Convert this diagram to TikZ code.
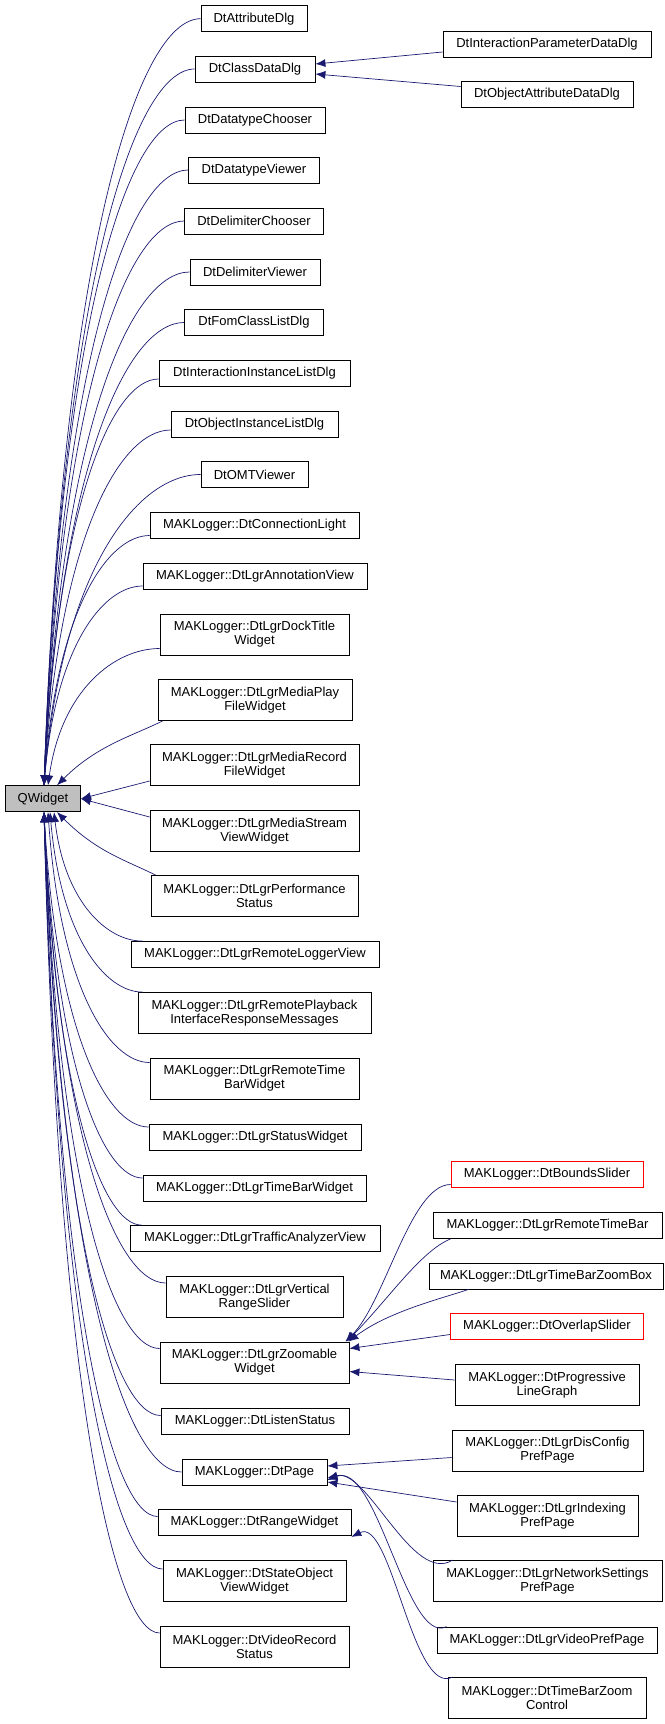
\documentclass[tikz,border=0pt]{standalone}
\usepackage{fontspec}
\setmainfont{Liberation Sans}
\usetikzlibrary{arrows.meta,calc}
\definecolor{edgec}{HTML}{191970}
\newcommand\qe[2]{\draw[e] let \p1=(#1),\p2=(#2) in (#1) .. controls (\x1+0.12*\x2-0.12*\x1,\y1+0.7*\y2-0.7*\y1) and (\x2-0.4*\x2+0.4*\x1,\y2) .. (#2);}
\begin{document}
\begin{tikzpicture}[x=1pt,y=-1pt,
  b/.style={draw=black,line width=0.8pt,fill=white,inner sep=0pt,minimum height=26pt,align=center,font=\fontsize{13}{14}\selectfont},
  bb/.style={b,minimum height=41pt},
  red/.style={draw=red},
  e/.style={draw=edgec,line width=0.7pt,{Latex[length=10pt,width=8pt]}-}]
\useasboundingbox (0,0) rectangle (664,1724);
\node[b,fill=gray!50,minimum width=75pt] (qw) at (43,798.7) {QWidget};
\node[b,minimum width=106pt] (n1) at (254,18.7) {DtAttributeDlg};
\node[b,minimum width=120pt] (n2) at (255,69) {DtClassDataDlg};
\node[b,minimum width=208pt] (n2a) at (547,44) {DtInteractionParameterDataDlg};
\node[b,minimum width=172pt] (n2b) at (547,94.5) {DtObjectAttributeDataDlg};
\node[b,minimum width=140pt] (n3) at (255,120) {DtDatatypeChooser};
\node[b,minimum width=131pt] (n4) at (254,170) {DtDatatypeViewer};
\node[b,minimum width=139pt] (n5) at (254,221) {DtDelimiterChooser};
\node[b,minimum width=130pt] (n6) at (255,272) {DtDelimiterViewer};
\node[b,minimum width=139pt] (n7) at (254,322.5) {DtFomClassListDlg};
\node[b,minimum width=191pt] (n8) at (254.5,373) {DtInteractionInstanceListDlg};
\node[b,minimum width=167pt] (n9) at (254.5,424) {DtObjectInstanceListDlg};
\node[b,minimum width=107pt] (n10) at (254.5,474.5) {DtOMTViewer};
\node[b,minimum width=209pt] (n11) at (254.5,525.5) {MAKLogger::DtConnectionLight};
\node[b,minimum width=224pt] (n12) at (255,576) {MAKLogger::DtLgrAnnotationView};
\node[bb,minimum width=189pt] (n13) at (254.5,634.5) {MAKLogger::DtLgrDockTitle\\Widget};
\node[bb,minimum width=194pt] (n14) at (255,700) {MAKLogger::DtLgrMediaPlay\\FileWidget};
\node[bb,minimum width=209pt] (n15) at (254.5,765) {MAKLogger::DtLgrMediaRecord\\FileWidget};
\node[bb,minimum width=209pt] (n16) at (254.5,831) {MAKLogger::DtLgrMediaStream\\ViewWidget};
\node[bb,minimum width=207pt] (n17) at (254.5,896) {MAKLogger::DtLgrPerformance\\Status};
\node[b,minimum width=248pt] (n18) at (255,954.5) {MAKLogger::DtLgrRemoteLoggerView};
\node[bb,minimum width=233pt] (n19) at (254.5,1013) {MAKLogger::DtLgrRemotePlayback\\InterfaceResponseMessages};
\node[bb,minimum width=209pt] (n20) at (254.5,1078.5) {MAKLogger::DtLgrRemoteTime\\BarWidget};
\node[b,minimum width=212pt] (n21) at (255,1137) {MAKLogger::DtLgrStatusWidget};
\node[b,minimum width=223pt] (n22) at (254.5,1188) {MAKLogger::DtLgrTimeBarWidget};
\node[b,minimum width=250pt] (n23) at (255,1238.5) {MAKLogger::DtLgrTrafficAnalyzerView};
\node[bb,minimum width=177pt] (n24) at (254.5,1297) {MAKLogger::DtLgrVertical\\RangeSlider};
\node[bb,minimum width=189pt] (n25) at (254.5,1362.5) {MAKLogger::DtLgrZoomable\\Widget};
\node[b,minimum width=188pt] (n26) at (255,1421.5) {MAKLogger::DtListenStatus};
\node[b,minimum width=145pt] (n27) at (254.5,1472) {MAKLogger::DtPage};
\node[b,minimum width=193pt] (n28) at (254.5,1522.5) {MAKLogger::DtRangeWidget};
\node[bb,minimum width=183pt] (n29) at (254.5,1581) {MAKLogger::DtStateObject\\ViewWidget};
\node[bb,minimum width=189pt] (n30) at (254.5,1647) {MAKLogger::DtVideoRecord\\Status};
\node[b,red,minimum width=192pt] (z1) at (547,1174.5) {MAKLogger::DtBoundsSlider};
\node[b,minimum width=229pt] (z2) at (547.5,1225.5) {MAKLogger::DtLgrRemoteTimeBar};
\node[b,minimum width=234pt] (z3) at (546,1276) {MAKLogger::DtLgrTimeBarZoomBox};
\node[b,red,minimum width=193pt] (z4) at (547,1326.5) {MAKLogger::DtOverlapSlider};
\node[bb,minimum width=184pt] (z5) at (547,1385) {MAKLogger::DtProgressive\\LineGraph};
\node[bb,minimum width=191pt] (p1) at (547.5,1450.5) {MAKLogger::DtLgrDisConfig\\PrefPage};
\node[bb,minimum width=181pt] (p2) at (547.5,1516) {MAKLogger::DtLgrIndexing\\PrefPage};
\node[bb,minimum width=229pt] (p3) at (547.5,1581) {MAKLogger::DtLgrNetworkSettings\\PrefPage};
\node[b,minimum width=220pt] (p4) at (547,1640) {MAKLogger::DtLgrVideoPrefPage};
\node[bb,minimum width=198pt] (r1) at (547,1698) {MAKLogger::DtTimeBarZoom\\Control};
% anchor points on QWidget
\coordinate (qt) at ([xshift=1pt]qw.north);
\coordinate (qb) at ([xshift=1pt]qw.south);
\qe{qt}{n1.west}
\qe{qt}{n2.west}
\qe{qt}{n3.west}
\qe{qt}{n4.west}
\qe{qt}{n5.west}
\qe{qt}{n6.west}
\qe{qt}{n7.west}
\qe{qt}{[yshift=-6pt]n8.west}
\qe{qt}{[yshift=-6pt]n9.west}
\qe{qt}{n10.west}
\qe{qt}{[yshift=-10pt]n11.west}
\qe{qt}{[yshift=-10pt]n12.west}
\qe{[xshift=4pt]qt}{[yshift=-14pt]n13.west}
\draw[e] ([xshift=14pt]qw.north) .. controls +(40,-40) and +(-30,15) .. ([xshift=5pt]n14.south west);
\draw[e] (qw.east) -- ([yshift=-16pt]n15.west);
\draw[e] (qw.east) -- ([yshift=14pt]n16.west);
\draw[e] ([xshift=14pt]qw.south) .. controls +(40,40) and +(-30,-15) .. ([xshift=5pt]n17.north west);
\qe{[xshift=10pt]qb}{[xshift=12pt]n18.north west}
\qe{[xshift=6pt]qb}{[xshift=5pt]n19.north west}
\qe{[xshift=4pt]qb}{[yshift=16pt]n20.west}
\qe{qb}{[yshift=10pt]n21.west}
\qe{qb}{[yshift=10pt]n22.west}
\qe{qb}{[xshift=12pt]n23.north west}
\qe{qb}{[yshift=14pt]n24.west}
\qe{qb}{[yshift=14pt]n25.west}
\qe{qb}{[yshift=6pt]n26.west}
\qe{qb}{n27.west}
\qe{qb}{[yshift=6pt]n28.west}
\qe{qb}{[yshift=12pt]n29.west}
\qe{qb}{[yshift=14pt]n30.west}
% DtClassDataDlg
\draw[e] ([yshift=5pt]n2.east) -- ([yshift=-8pt]n2a.west);
\draw[e] ([yshift=-5pt]n2.east) -- ([yshift=8pt]n2b.west);
% Zoomable
\draw[e] ([xshift=-4pt]n25.north east) .. controls +(40,-40) and +(-40,0) .. ([yshift=-10pt]z1.west);
\draw[e] ([xshift=-3pt]n25.north east) .. controls +(40,-40) and +(-30,12) .. ([xshift=18pt]z2.south west);
\draw[e] ([xshift=-1pt]n25.north east) .. controls +(40,-30) and +(-30,10) .. ([xshift=40pt]z3.south west);
\draw[e] ([yshift=14pt]n25.east) -- ([yshift=-8pt]z4.west);
\draw[e] ([yshift=-9pt]n25.east) -- ([yshift=5pt]z5.west);
% DtPage
\draw[e] ([yshift=6pt]n27.east) -- ([yshift=-7pt]p1.west);
\draw[e] ([yshift=-10pt]n27.east) -- ([yshift=14pt]p2.west);
\draw[e] ([yshift=-6pt]n27.east) .. controls +(40,-10) and +(-40,25) .. ([xshift=20pt]p3.north west);
\draw[e] ([yshift=-8pt]n27.east) .. controls +(50,-20) and +(-40,20) .. ([xshift=10pt]p4.north west);
% RangeWidget
\draw[e] ([yshift=-1pt]n28.south east) .. controls +(40,-20) and +(-40,20) .. ([xshift=5pt]r1.north west);
\end{tikzpicture}
\end{document}
